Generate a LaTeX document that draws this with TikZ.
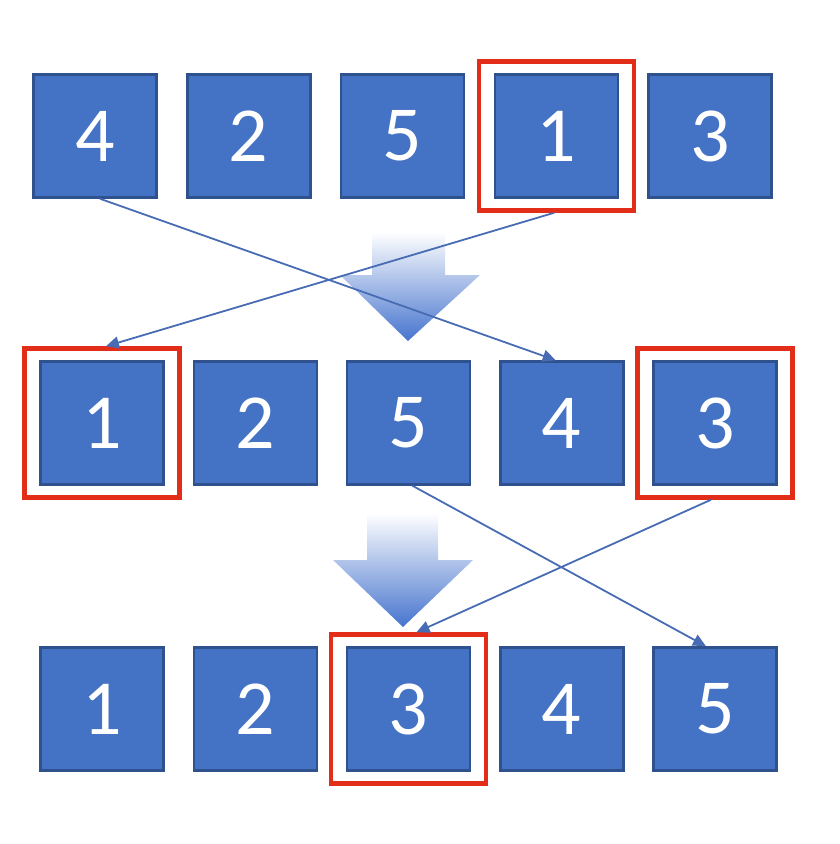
\documentclass[tikz,border=0pt]{standalone}
\usepackage{fontspec}
\setmainfont{Carlito}
\usepackage{tikz}
\usetikzlibrary{arrows.meta,calc,positioning}
\definecolor{boxblue}{RGB}{68,114,196}
\definecolor{boxedge}{RGB}{47,82,143}
\definecolor{markred}{RGB}{226,45,25}
\definecolor{linkblue}{RGB}{72,108,180}
\definecolor{shadeblue}{RGB}{70,116,206}

\begin{document}
\begin{tikzpicture}[x=1pt,y=-1pt,>={Triangle[length=13pt,width=12pt]},
  numbox/.style={draw=boxedge,line width=2.5pt,fill=boxblue,minimum size=123pt,inner sep=0pt,text=white,font=\fontsize{78}{78}\selectfont},
  redframe/.style={draw=markred,line width=4.5pt,minimum width=155pt,minimum height=149pt,inner sep=0pt},
  swapline/.style={->,draw=linkblue,fill=linkblue,line width=1.8pt}]
  \useasboundingbox (0,0) rectangle (840,844);
  % shaded step arrows
  \shade[top color=white,middle color=shadeblue!18,bottom color=shadeblue]
    (372,232) -- (445,232) -- (445,275) -- (480,275) -- (408,341) -- (340,275) -- (372,275) -- cycle;
  \shade[top color=white,middle color=shadeblue!18,bottom color=shadeblue]
    (367,513) -- (438,513) -- (438,560) -- (473,560) -- (403,627) -- (333,560) -- (367,560) -- cycle;
  % rows of numbers
  \foreach \n [count=\i] in {4,2,5,1,3}
    \node[numbox] (a\i) at ({95+153.75*(\i-1)},136) {\n};
  \foreach \n [count=\i] in {1,2,5,4,3}
    \node[numbox] (b\i) at ({102+153.25*(\i-1)},423) {\n};
  \foreach \n [count=\i] in {1,2,3,4,5}
    \node[numbox] (c\i) at ({102+153.25*(\i-1)},709) {\n};
  % marked boxes
  \node[redframe] (ra) at (a4) {};
  \node[redframe] (rb) at (b1) {};
  \node[redframe] (rc) at (b5) {};
  \node[redframe] (rd) at (c3) {};
  % swaps
  \draw[swapline] ($(a1.south)+(5,0)$) -- ($(b4.north)+(-6,0)$);
  \draw[swapline] ($(ra.south)+(-2,0)$) -- ($(rb.north)+(4,0)$);
  \draw[swapline] ($(b3.south)+(4,0)$) -- ($(c5.north)+(-9,0)$);
  \draw[swapline] ($(rc.south)+(-4,0)$) -- ($(rd.north)+(8,0)$);
\end{tikzpicture}
\end{document}
